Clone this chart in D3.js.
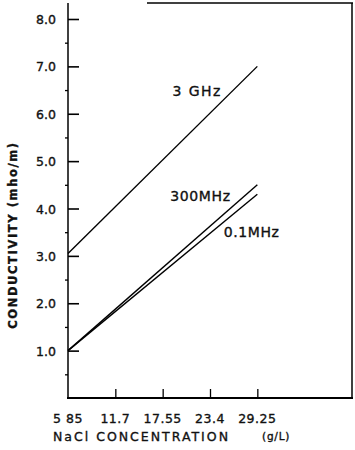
<!DOCTYPE html>
<html><head><meta charset="utf-8">
<script src="https://cdn.jsdelivr.net/npm/d3@7"></script>
<style>body{margin:0;background:#fff}svg{display:block}text{font-family:"DejaVu Sans",sans-serif;fill:#111;stroke:#111;stroke-width:0.35px}</style>
</head><body>
<svg id="c" width="355" height="450"></svg>
<script>
const concentration = [5.85, 29.25];
const ghz3 = [3.05, 7.0];
const mhz300 = [1.0, 4.5];
const mhz01 = [1.0, 4.3];
const xTicks = [5.85, 11.7, 17.55, 23.4, 29.25];
const xTickLabels = ["5 85", "11.7", "17.55", "23.4", "29.25"];
const yTicks = [1, 2, 3, 4, 5, 6, 7, 8];
const yMinor = [0.5, 1.5, 2.5, 3.5, 4.5, 5.5, 6.5, 7.5];
const seriesNames = ["3 GHz", "300MHz", "0.1MHz"];
const labelAnchors = [[18.75, 6.38], [18.5, 4.16], [25.1, 3.39]];

const svg = d3.select("#c");
const x = d3.scaleLinear().domain([5.85, 40.95]).range([68, 352]);
const y = d3.scaleLinear().domain([0, 8]).range([398, 19]);
const yTop = 3;

// frame
svg.append("line").attr("x1",68).attr("x2",68).attr("y1",yTop).attr("y2",398).attr("stroke","#000").attr("stroke-width",1.5);
svg.append("line").attr("x1",67).attr("x2",353).attr("y1",398).attr("y2",398).attr("stroke","#000").attr("stroke-width",2);
svg.append("line").attr("x1",352).attr("x2",352).attr("y1",yTop).attr("y2",399).attr("stroke","#000").attr("stroke-width",1.5);
svg.append("line").attr("x1",147).attr("x2",353).attr("y1",yTop).attr("y2",yTop).attr("stroke","#000").attr("stroke-width",1.5);

// y axis ticks and labels
const yAxis = svg.append("g").attr("transform","translate(68,0)")
  .call(d3.axisRight(y).tickValues(yTicks).tickSize(11).tickFormat(""));
yAxis.select(".domain").remove();
yAxis.selectAll("line").attr("stroke","#000").attr("stroke-width",1.6);
const yMin = svg.append("g").attr("transform","translate(68,0)")
  .call(d3.axisLeft(y).tickValues(yMinor).tickSize(3).tickFormat(""));
yMin.select(".domain").remove();
yMin.selectAll("line").attr("stroke","#000").attr("stroke-width",1.3);
svg.selectAll(".ylab").data(yTicks).enter().append("text")
  .attr("x",56).attr("y",d=>y(d)+5).attr("text-anchor","end")
  .attr("font-size",12.5).text(d=>d.toFixed(1));

// x axis ticks
const xAxis = svg.append("g").attr("transform","translate(0,398)")
  .call(d3.axisTop(x).tickValues(xTicks.slice(1)).tickSize(9).tickFormat(""));
xAxis.select(".domain").remove();
xAxis.selectAll("line").attr("stroke","#000").attr("stroke-width",1.3);
svg.selectAll(".xlab").data(xTicks).enter().append("text")
  .attr("x",d=>x(d)).attr("y",423).attr("text-anchor","middle")
  .attr("font-size",12.5).attr("letter-spacing",0.5).text((d,i)=>xTickLabels[i]);

// axis titles
svg.append("text").attr("x",53).attr("y",441).attr("font-size",12.5).attr("letter-spacing",2).text("NaCl CONCENTRATION");
svg.append("text").attr("x",262).attr("y",440).attr("font-size",10.5).attr("letter-spacing",0.8).text("(g/L)");
svg.append("text").attr("transform","translate(17,235) rotate(-90)").attr("text-anchor","middle")
  .attr("font-size",11.5).attr("letter-spacing",1.6).attr("font-weight","bold").text("CONDUCTIVITY (mho/m)");

// lines
const series = [ghz3, mhz300, mhz01];
const line = d3.line().x((d,i)=>x(concentration[i])).y(d=>y(d));
svg.selectAll(".series").data(series).enter().append("path")
  .attr("d", d=>line(d)).attr("fill","none").attr("stroke","#000").attr("stroke-width",1.4);

// series labels
svg.selectAll(".slab").data(seriesNames).enter().append("text")
  .attr("x",(d,i)=>x(labelAnchors[i][0])).attr("y",(d,i)=>y(labelAnchors[i][1]))
  .attr("font-size",14).attr("letter-spacing",(d,i)=>i===0?1.5:0.6).text(d=>d);
</script>
</body></html>
